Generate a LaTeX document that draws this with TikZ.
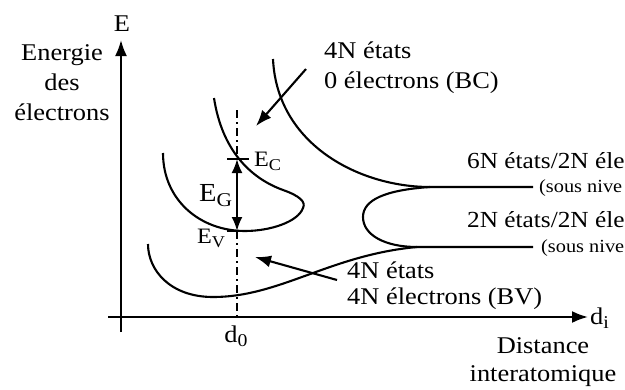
\documentclass[tikz,border=0pt]{standalone}
\usepackage{fontspec}
\usepackage{graphicx}
\setmainfont{Liberation Serif}[FakeStretch=1.1]
\usetikzlibrary{arrows.meta}
\newcommand\mysub[1]{\raisebox{-0.2em}{\scalebox{0.75}{#1}}}
\begin{document}
\begin{tikzpicture}[x=1pt,y=-1pt,
  curve/.style={line width=2.1pt},
  axis/.style={line width=2.2pt,-{Latex[length=16pt,width=12pt]}},
  pointer/.style={line width=2.1pt,-{Latex[length=16pt,width=12pt]}},
  gaparrow/.style={line width=2.1pt,{Latex[length=14pt,width=11pt]}-{Latex[length=14pt,width=11pt]}},
  dashline/.style={line width=2.6pt,dash pattern=on 8pt off 4pt on 2pt off 4pt},
  big/.style={font=\fontsize{24}{29}\selectfont, inner sep=0pt},
  right/.style={font=\fontsize{23}{28}\selectfont, inner sep=0pt},
  egsize/.style={font=\fontsize{26}{30}\selectfont, inner sep=0pt},
  mid/.style={font=\fontsize{22}{26}\selectfont, inner sep=0pt},
  small/.style={font=\fontsize{18.5}{22}\selectfont, inner sep=0pt},
  ]
\useasboundingbox (0,0) rectangle (625,389);
% axes
\coordinate (yb) at (121,332); \coordinate (yt) at (121,40);
\coordinate (xl) at (108,317); \coordinate (xr) at (588,317);
\draw[axis] (yb) -- (yt);
\draw[axis] (xl) -- (xr);
% axis labels
\node[big] (E) at (122,24) {E};
\node[big, anchor=base] (en1) at (62,60) {Energie};
\node[big, anchor=base] (en2) at (62,90) {des};
\node[big, anchor=base] (en3) at (62,120) {électrons};
\node[big, anchor=base] (d0) at (236,342) {d\mysub{0}};
\node[big, anchor=base west] (di) at (590,324) {d\mysub{i}};
\node[big, anchor=base] (dist1) at (543,353) {Distance};
\node[big, anchor=base] (dist2) at (543,381) {interatomique};
% bands
\coordinate (c1s) at (273,59); \coordinate (c1e) at (430,187); \coordinate (r1) at (533,187);
\coordinate (c2e) at (417,247); \coordinate (r2) at (533,247);
\draw[curve] (c1s) .. controls (277,145) and (360,187) .. (c1e) -- (r1);
\draw[curve] (c1e) .. controls (385,190) and (363,200) .. (363,217) .. controls (363,235) and (385,247) .. (c2e) -- (r2);
\draw[curve] (c2e) .. controls (330,255) and (280,297) .. (213,297) .. controls (170,297) and (148,270) .. (148,244);
\draw[curve] (214,98) .. controls (222,150) and (250,178) .. (283,190) .. controls (300,196) and (306,202) .. (303,208) .. controls (298,222) and (270,231) .. (245,231) .. controls (200,231) and (163,200) .. (163,153);
% levels
\coordinate (ec) at (237,159); \coordinate (ev) at (237,231);
\coordinate (dtop) at (237,110); \coordinate (dbot) at (237,317);
\draw[curve] (227,159) -- (249,159);
\draw[curve] (227,231) -- (249,231);
\draw[dashline] (dtop) -- (ec);
\draw[dashline] (ev) -- (dbot);
\draw[gaparrow] (ec) -- (ev);
\node[mid, anchor=base west] (lec) at (254,166) {E\mysub{C}};
\node[egsize, anchor=base west] (leg) at (199,201) {E\mysub{G}};
\node[mid, anchor=base west] (lev) at (197,243) {E\mysub{V}};
% labels
\node[big, anchor=base west] (bc1) at (324,58) {4N états};
\node[big, anchor=base west] (bc2) at (324,88) {0 électrons (BC)};
\node[big, anchor=base west] (bv1) at (347,278) {4N états};
\node[big, anchor=base west] (bv2) at (347,304) {4N électrons (BV)};
\node[right, anchor=base west] (s1) at (467,168) {6N états/2N éle};
\node[small, anchor=base west] (p1) at (539,192) {(sous nive};
\node[right, anchor=base west] (s2) at (467,227) {2N états/2N éle};
\node[small, anchor=base west] (p2) at (541,252) {(sous nive};
% pointers
\coordinate (a1s) at (306,69); \coordinate (a1e) at (256,126);
\coordinate (a2s) at (337,280); \coordinate (a2e) at (255,257);
\draw[pointer] (a1s) -- (a1e);
\draw[pointer] (a2s) -- (a2e);
\end{tikzpicture}
\end{document}
